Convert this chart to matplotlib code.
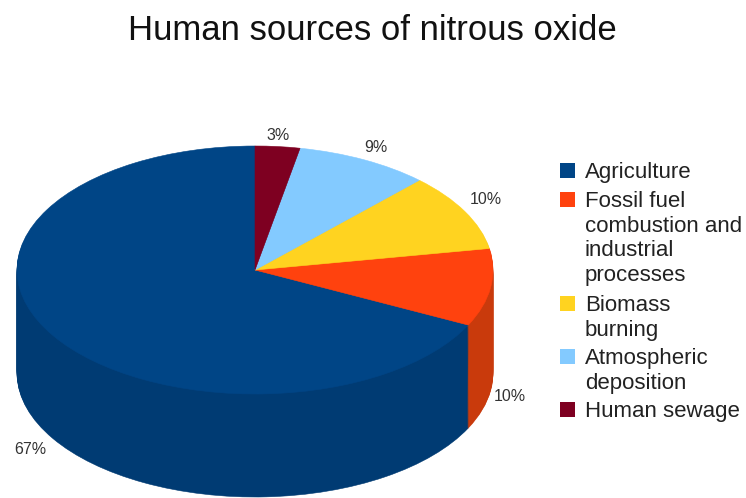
#!/usr/bin/env python3
import numpy as np
import matplotlib
matplotlib.use('Agg')
import matplotlib.pyplot as plt
from matplotlib.patches import Rectangle

plt.rcParams['font.family'] = ['Liberation Sans', 'DejaVu Sans']

# 数据
title = 'Human sources of nitrous oxide'
sources = ['Agriculture', 'Fossil fuel\ncombustion and\nindustrial\nprocesses',
           'Biomass\nburning', 'Atmospheric\ndeposition', 'Human sewage']
shares = [67, 10, 10, 9, 3]
top_colors = ['#004586', '#ff420e', '#ffd320', '#83caff', '#7e0021']
side_colors = ['#003b73', '#c93a0c', '#c9a61a', '#6aa3cf', '#5f0019']
label_pos = [(30, 449), (510, 396), (486, 199), (376, 147), (278, 135)]
legend_y = [172, 201, 305, 358, 411]

W, H = 746, 498
fig = plt.figure(figsize=(W / 100, H / 100), dpi=100)

# 椭圆：x 17-493，顶面 y 146-394，厚度 103 像素
depth = 103 / 124
ax = fig.add_axes([17 / W, 1 - 497 / H, 476 / W, 351 / H])


def draw_layer(colors, offset):
    wedges, _ = ax.pie(shares, colors=colors, startangle=90, center=(0, -offset), radius=1)
    for w, c in zip(wedges, colors):
        w.set_edgecolor(c)
        w.set_linewidth(0.4)
    return wedges


# 侧面：从下往上叠深色饼
for d in np.linspace(depth, 0.01, 104):
    draw_layer(side_colors, d)

# 顶面
draw_layer(top_colors, 0)
ax.set_aspect('auto')
ax.set_xlim(-1, 1)
ax.set_ylim(-1 - depth, 1)
ax.axis('off')

fig.text(372 / W, 1 - 31 / H, title, fontsize=25, color='#111111', ha='center', va='center')

for v, (x, y) in zip(shares, label_pos):
    fig.text(x / W, 1 - y / H, f'{v}%', fontsize=11.5, color='#333333', ha='center', va='center')

# 图例：色块对齐每项第一行
for name, c, y in zip(sources, top_colors, legend_y):
    fig.add_artist(Rectangle((560 / W, 1 - (y + 6) / H), 15 / W, 15 / H, transform=fig.transFigure,
                             facecolor=c, edgecolor='none'))
    fig.text(585 / W, 1 - (y - 10) / H, name, fontsize=16, color='#222222', ha='left', va='top',
             linespacing=1.22)

fig.savefig('out.png', dpi=100)
